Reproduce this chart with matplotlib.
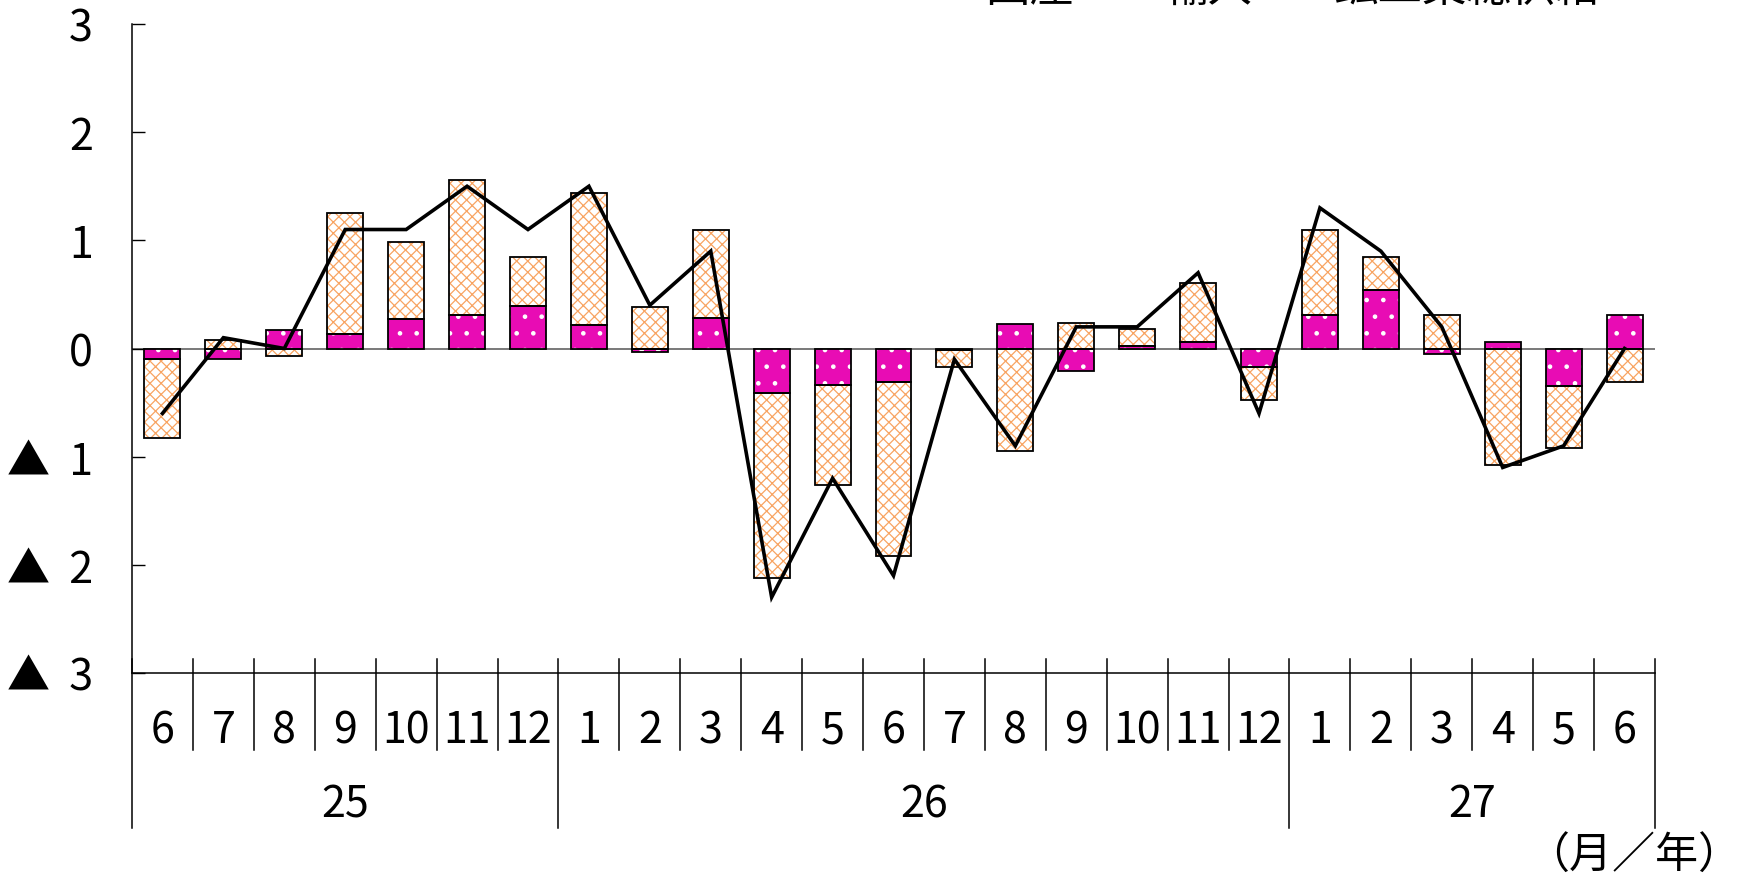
import matplotlib
matplotlib.use('Agg')
import matplotlib.pyplot as plt
import numpy as np
from matplotlib.transforms import blended_transform_factory

plt.rcParams['font.family'] = ['Noto Sans CJK JP', 'DejaVu Sans']
plt.rcParams['hatch.linewidth'] = 0.9

# ---- data ----
months = ['6', '7', '8', '9', '10', '11', '12', '1', '2', '3', '4', '5', '6',
          '7', '8', '9', '10', '11', '12', '1', '2', '3', '4', '5', '6']
years = ['25', '26', '27']
year_counts = [7, 12, 6]
domestic = [-0.73, 0.08, -0.07, 1.12, 0.71, 1.25, 0.46, 1.22, 0.38, 0.82,
            -1.71, -0.92, -1.61, -0.16, -0.95, 0.24, 0.16, 0.55, -0.31, 0.79,
            0.31, 0.31, -1.08, -0.57, -0.31]
imports = [-0.10, -0.10, 0.17, 0.13, 0.27, 0.31, 0.39, 0.22, -0.03, 0.28,
           -0.41, -0.34, -0.31, -0.01, 0.23, -0.21, 0.02, 0.06, -0.17, 0.31,
           0.54, -0.05, 0.06, -0.35, 0.31]
total = [-0.6, 0.1, 0.0, 1.1, 1.1, 1.5, 1.1, 1.5, 0.4, 0.9, -2.3, -1.2, -2.1,
         -0.1, -0.9, 0.2, 0.2, 0.7, -0.6, 1.3, 0.9, 0.2, -1.1, -0.9, 0.0]
yticks = [3, 2, 1, 0, -1, -2, -3]
ytick_labels = ['3', '2', '1', '0', '▲  1', '▲  2', '▲  3']
legend_labels = ['国産', '輸入', '鉱工業総供給']

PINK = '#E80CB4'
ORANGE = '#F8A462'

W, H = 1744, 879
fig = plt.figure(figsize=(W / 100, H / 100), dpi=100)
ax = fig.add_axes([132 / W, 1 - 674 / H, (1655 - 132) / W, (674 - 25) / H])

n = len(months)
x = np.arange(n)
dom = np.array(domestic)
imp = np.array(imports)
dom_bottom = np.where(np.sign(dom) == np.sign(imp), imp, 0.0)

bw = 0.59
ax.axhline(0, color='#555555', lw=1.1, zorder=1)

# imports (pink with white dots)
ax.bar(x, imp, width=bw, color=PINK, edgecolor='white', hatch='.', linewidth=0, zorder=2)
ax.bar(x, imp, width=bw, fill=False, edgecolor='black', linewidth=1.3, zorder=2.5)
# domestic (orange texture)
ax.bar(x, dom, bottom=dom_bottom, width=bw, color='white', edgecolor=ORANGE,
       hatch='xxx', linewidth=0, zorder=2)
ax.bar(x, dom, bottom=dom_bottom, width=bw, fill=False, edgecolor='black',
       linewidth=1.3, zorder=2.5)

ax.plot(x, total, color='black', lw=2.6, zorder=3, solid_joinstyle='miter')

ax.set_xlim(-0.5, n - 0.5)
ax.set_ylim(-3, 3)
ax.set_yticks(yticks)
ax.set_yticklabels(ytick_labels, fontsize=31)
ax.tick_params(axis='y', direction='in', length=9.5, width=1.0, pad=28)
ax.set_xticks([])
for s in ['top', 'right']:
    ax.spines[s].set_visible(False)
ax.spines['left'].set_linewidth(1.1)
ax.spines['bottom'].set_linewidth(1.1)

# category axis separators
tr = blended_transform_factory(ax.transData, ax.transAxes)
axh = 674 - 25
top_sep = 14 / axh
month_bot = -(751 - 674) / axh
year_bot = -(829 - 674) / axh
year_edges = np.concatenate([[0], np.cumsum(year_counts)])
for i in range(n + 1):
    yb = year_bot if i in year_edges else month_bot
    ax.plot([i - 0.5, i - 0.5], [top_sep, yb], color='black', lw=1.1,
            transform=tr, clip_on=False)
month_y = -(731 - 674) / axh
for i, m in enumerate(months):
    ax.text(i, month_y, m, transform=tr, ha='center', va='center', fontsize=31)
year_y = -(805 - 674) / axh
for k, yl in enumerate(years):
    c = (year_edges[k] + year_edges[k + 1]) / 2 - 0.5
    ax.text(c, year_y, yl, transform=tr, ha='center', va='center', fontsize=31)

fig.text(1741 / W, 1 - 857 / H, '（月／年）', ha='right', va='center', fontsize=31)

# legend labels (cut off at the top edge, as in the reference)
for lab, cx in zip(legend_labels, [1030, 1208, 1467]):
    fig.text(cx / W, 1 - 1 / H, lab, ha='center', va='baseline', fontsize=32)

fig.savefig('out.png', dpi=100)
